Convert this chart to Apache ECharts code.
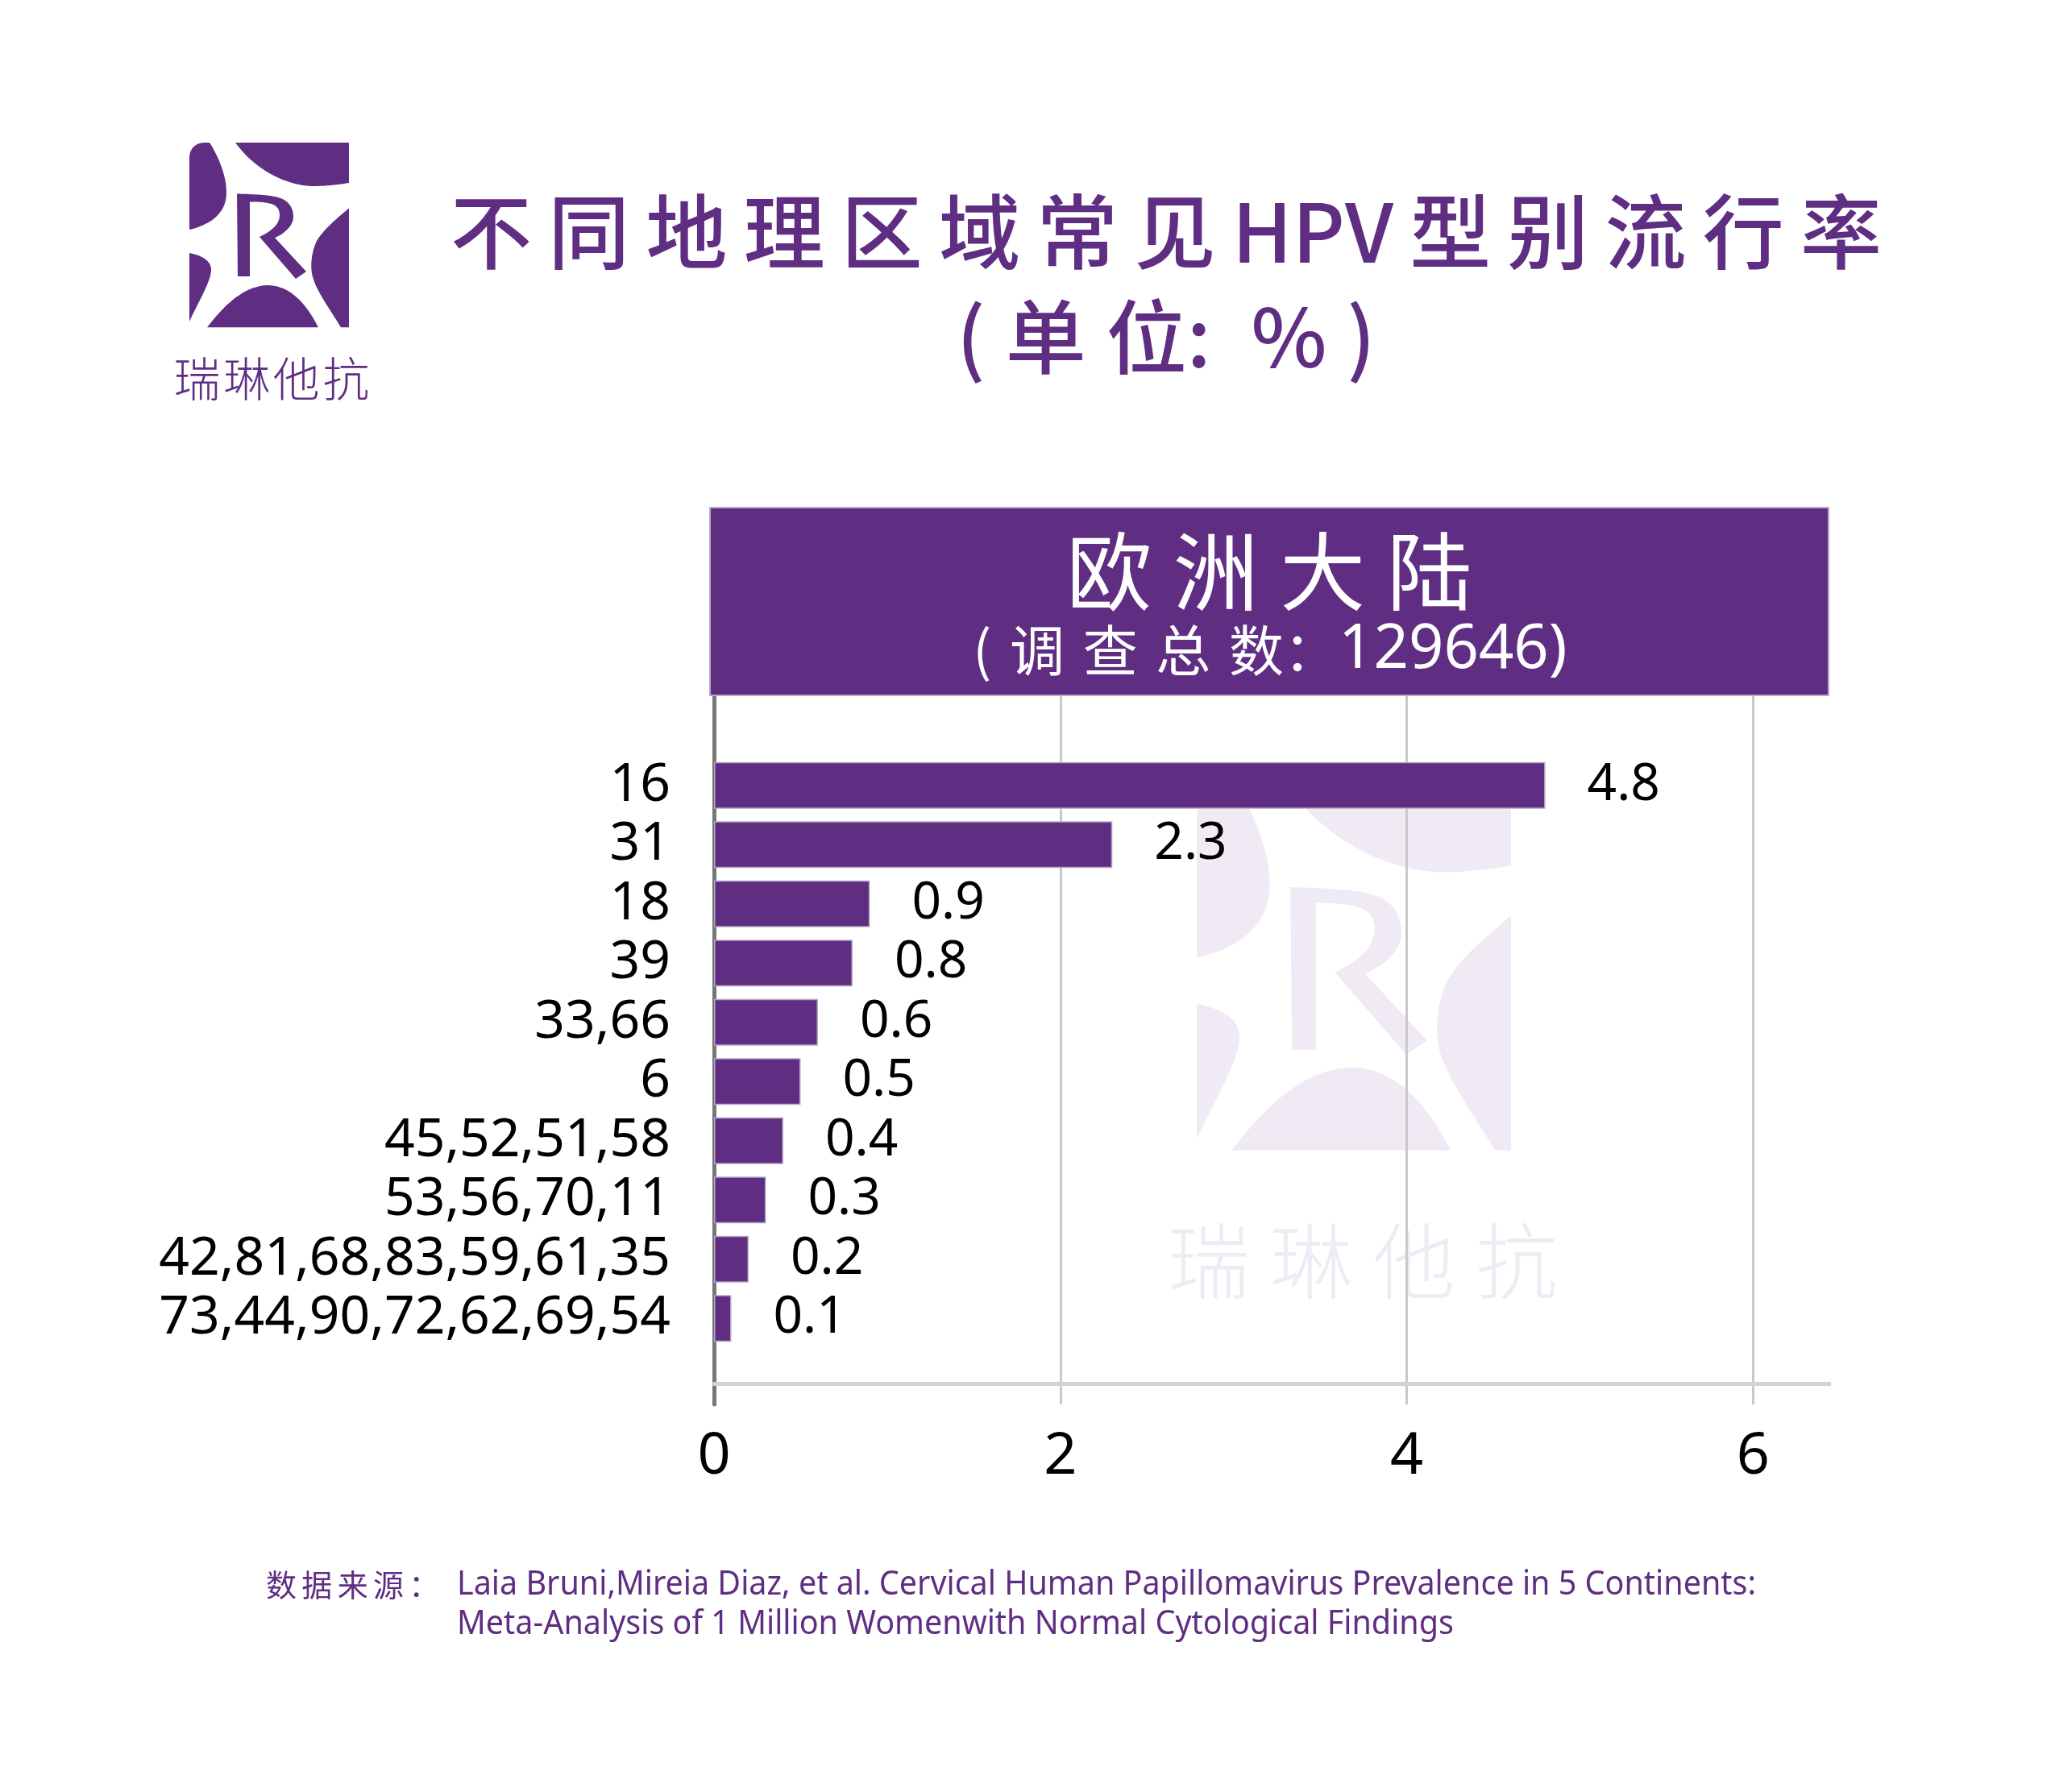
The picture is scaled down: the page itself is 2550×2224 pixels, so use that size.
<!DOCTYPE html>
<html><head><meta charset="utf-8">
<script src="https://cdn.jsdelivr.net/npm/echarts@6/dist/echarts.min.js"></script>
<style>html,body{margin:0;padding:0;background:#fff}#c{width:2550px;height:2224px}</style>
</head><body><div id="c"></div>
<script>
// ---------- data ----------
const categories = ['16','31','18','39','33,66','6','45,52,51,58','53,56,70,11','42,81,68,83,59,61,35','73,44,90,72,62,69,54'];
const prevalence = [4.8, 2.3, 0.9, 0.8, 0.6, 0.5, 0.4, 0.3, 0.2, 0.1];
const xTicks = [0, 2, 4, 6];
const axisMax = 6.44;
const titleLine1 = '不同地理区域常见HPV型别流行率';
const titleLine2 = '(单位: %)';
const regionName = '欧洲大陆';
const surveyLabel = '调查总数';
const surveyTotal = '129646';
const brand = '瑞琳他抗';
const sourceLabel = '数据来源:';
const sourceLines = [
  'Laia Bruni,Mireia Diaz, et al. Cervical Human Papillomavirus Prevalence in 5 Continents:',
  'Meta-Analysis of 1 Million Womenwith Normal Cytological Findings'
];

// ---------- style ----------
const PURPLE = '#5f2e82';
const WM = '#efeaf3';
const CJK = '"Noto Sans CJK SC", "Noto Sans", sans-serif';
const LAT = '"Noto Sans", "DejaVu Sans", sans-serif';

const logoShapes = [
  'M0,108 L0,17 Q2,2 17,0 L25,0 C33,12 46,38 46,62 C46,85 30,101 0,108 Z',
  'M57,0 L198,0 L198,50 C185,52 170,54 155,54 C125,54 85,38 57,0 Z',
  'M59,63.5 C80,64 100,65 110,68 C122,71 129,80 129,92 C129,103 118,113 106,118 L145,160 L132,169 L87,117 C100,111 112,102 112,90 C112,80 105,76 97,75 C90,73.5 82,73.4 75,73.4 L75,166 L60,166 Z',
  'M198,81.6 C180,96 165,110 158,122 C152,135 150,150 152,162 C155,180 170,200 188,229.3 L198,229.3 Z',
  'M22,229.3 C40,206 65,178 97,177 C125,177 145,200 160,229.3 Z',
  'M0,137 C15,140 27,146 27,158 C27,172 10,200 0,222 Z'
];

function pathToPoints(d, ox, oy, s) {
  const t = d.match(/[MLCQZ]|-?\d*\.?\d+/g);
  let i = 0, cmd = 'M', cx = 0, cy = 0;
  const pts = [];
  const num = () => parseFloat(t[i++]);
  while (i < t.length) {
    if (/^[MLCQZ]$/.test(t[i])) { cmd = t[i++]; }
    if (cmd === 'Z') continue;
    if (cmd === 'M' || cmd === 'L') { cx = num(); cy = num(); pts.push([cx, cy]); }
    else if (cmd === 'C') {
      const x1 = num(), y1 = num(), x2 = num(), y2 = num(), x = num(), y = num();
      for (let k = 1; k <= 20; k++) {
        const u = k / 20, v = 1 - u;
        pts.push([v*v*v*cx + 3*v*v*u*x1 + 3*v*u*u*x2 + u*u*u*x, v*v*v*cy + 3*v*v*u*y1 + 3*v*u*u*y2 + u*u*u*y]);
      }
      cx = x; cy = y;
    } else if (cmd === 'Q') {
      const x1 = num(), y1 = num(), x = num(), y = num();
      for (let k = 1; k <= 12; k++) {
        const u = k / 12, v = 1 - u;
        pts.push([v*v*cx + 2*v*u*x1 + u*u*x, v*v*cy + 2*v*u*y1 + u*u*y]);
      }
      cx = x; cy = y;
    }
  }
  return pts.map(p => [ox + p[0] * s, oy + p[1] * s]);
}
function logo(ox, oy, s, color, z) {
  return logoShapes.map(d => ({ type: 'polygon', z: z, silent: true,
    shape: { points: pathToPoints(d, ox, oy, s) }, style: { fill: color } }));
}
const spaced = (s, gap) => {
  const a = Array.from(s); let out = '';
  a.forEach((c, i) => {
    out += c;
    const n = a[i + 1];
    if (n !== undefined && !(/[A-Za-z]/.test(c) && /[A-Za-z]/.test(n))) out += gap;
  });
  return out;
};
const txt = (x, y, text, o) => ({
  type: 'text', x: x, y: y, z: o.z || 5, silent: true,
  scaleX: o.scaleX || 1, scaleY: 1,
  style: Object.assign({ text: text, fill: o.fill || '#000', fontSize: o.fontSize, fontFamily: o.fontFamily || CJK,
    fontWeight: o.fontWeight || 'normal', align: o.align || 'center', textAlign: o.align || 'center',
    verticalAlign: o.va || 'middle', textVerticalAlign: o.va || 'middle' }, o.rich ? { rich: o.rich } : {})
});

const graphics = [].concat(
  // watermark
  logo(1485, 976, 1.97, WM, -10),
  [txt(1691, 1565, spaced(brand, '\u2005'), { fontSize: 102, fill: WM, fontWeight: 300, z: -10 })],
  // logo top-left
  logo(235, 177, 1, PURPLE, 5),
  [txt(337, 470, spaced(brand, '\u200A'), { fontSize: 58, fill: PURPLE, fontWeight: 300 })],
  // title
  [txt(1447, 288, spaced(titleLine1, '\u2009'), { fontSize: 101, fill: PURPLE, fontWeight: 500 })],
  [txt(1447, 418, '(\u2005单\u2005位:\u2005\u2005%\u2005)', { fontSize: 100, fill: PURPLE, fontWeight: 500 })],
  // header box
  [{ type: 'rect', z: 4, silent: true, shape: { x: 881, y: 630, width: 1388, height: 233 },
     style: { fill: PURPLE, stroke: '#b7a9c6', lineWidth: 2 } }],
  [txt(1575, 709, spaced(regionName, '\u2005'), { fontSize: 106, fill: '#fff', z: 6 })],
  [txt(1576, 807, '(\u2004' + spaced(surveyLabel, '\u2004') + '：{n|' + surveyTotal + ')}', { fontSize: 68, fill: '#fff', z: 6,
     rich: { n: { fontSize: 76, fontFamily: LAT, fill: '#fff', color: '#fff' } } })],
  // source
  [txt(330, 1967, spaced(sourceLabel.replace(':', '：'), '\u2006'), { fontSize: 38, fill: PURPLE, align: 'left' })],
  [txt(567, 1967, sourceLines[0], { fontSize: 42, fill: PURPLE, fontFamily: LAT, align: 'left', scaleX: 0.94 })],
  [txt(567, 2016, sourceLines[1], { fontSize: 42, fill: PURPLE, fontFamily: LAT, align: 'left', scaleX: 0.94 })]
);

const chart = echarts.init(document.getElementById('c'), null, { renderer: 'canvas' });
chart.setOption({
  backgroundColor: '#fff',
  animation: false,
  textStyle: { fontFamily: LAT },
  grid: [
    { left: 886, right: 280, top: 863, bottom: 481, containLabel: false },
    { left: 886, right: 280, top: 938, bottom: 551, containLabel: false }
  ],
  xAxis: [
    { type: 'value', gridIndex: 0, min: xTicks[0], max: axisMax, interval: xTicks[1] - xTicks[0],
      position: 'bottom', offset: -26,
      axisLine: { show: true, onZero: false, lineStyle: { color: '#d2d2d2', width: 5 } },
      axisTick: { show: false },
      splitLine: { show: true, showMinLine: false, showMaxLine: false, lineStyle: { color: '#c9c9c9', width: 3 } },
      axisLabel: { show: true, fontSize: 72, color: '#000', fontFamily: LAT, margin: 55,
        formatter: v => (xTicks.indexOf(v) >= 0 ? String(v) : '') } },
    { type: 'value', gridIndex: 1, min: xTicks[0], max: axisMax, show: false }
  ],
  yAxis: [
    { type: 'value', gridIndex: 0, min: 0, max: 1,
      axisLine: { show: true, onZero: false, lineStyle: { color: '#777', width: 5 } },
      axisTick: { show: false }, axisLabel: { show: false }, splitLine: { show: false } },
    { type: 'category', gridIndex: 1, data: categories, inverse: true,
      axisLine: { show: false }, axisTick: { show: false }, splitLine: { show: false },
      axisLabel: { show: true, interval: 0, fontSize: 66, color: '#000', fontFamily: LAT, margin: 54 } }
  ],
  series: [{
    type: 'bar', xAxisIndex: 1, yAxisIndex: 1, data: prevalence, barWidth: 58, z: 3,
    itemStyle: { color: PURPLE, borderColor: '#b3a6c2', borderWidth: 1.5 },
    label: { show: true, position: 'right', distance: 52, fontSize: 64, color: '#000', fontFamily: LAT },
    emphasis: { disabled: true }
  }],
  graphic: { elements: graphics }
});
</script>
</body></html>
